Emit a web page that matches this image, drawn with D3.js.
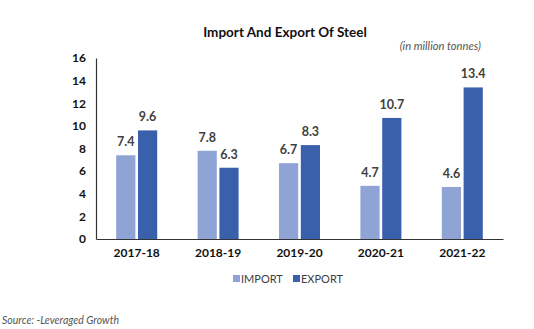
<!DOCTYPE html>
<html>
<head>
<meta charset="utf-8">
<script src="https://cdn.jsdelivr.net/npm/d3@7"></script>
<style>
  body { margin: 0; background: #fff; }
  text { font-family: Lato, "DejaVu Sans", sans-serif; }
</style>
</head>
<body>
<svg id="chart" width="534" height="329"></svg>
<script>
const years = ['2017-18', '2018-19', '2019-20', '2020-21', '2021-22'];
const importVals = [7.4, 7.8, 6.7, 4.7, 4.6];
const exportVals = [9.6, 6.3, 8.3, 10.7, 13.4];
const yTicks = [0, 2, 4, 6, 8, 10, 12, 14, 16];
const seriesNames = ['IMPORT', 'EXPORT'];
const seriesColors = ['#8fa3d5', '#3a60ac'];

const svg = d3.select('#chart');
const plotL = 96, plotR = 503, plotT = 58, plotB = 239;

const x = d3.scaleBand().domain(years).range([plotL, plotR]);
const inner = d3.scaleBand().domain(seriesNames).range([0, 41]).paddingInner(0.12);
const y = d3.scaleLinear().domain([0, 16]).range([plotB, plotT]);

// title + unit note
svg.append('text').attr('x', 285).attr('y', 37).attr('text-anchor', 'middle')
  .attr('font-size', 13.5).attr('font-weight', 'bold').attr('fill', '#111')
  .text('Import And Export Of Steel');
svg.append('text').attr('x', 481).attr('y', 50).attr('text-anchor', 'end')
  .attr('font-size', 11.2).attr('font-style', 'italic').attr('fill', '#555')
  .text('(in million tonnes)');

// bars
const rows = years.map((yr, i) => ({ yr, vals: [importVals[i], exportVals[i]] }));
const grp = svg.append('g').selectAll('g').data(rows).join('g')
  .attr('transform', d => `translate(${x(d.yr) + (x.bandwidth() - 41) / 2},0)`);

grp.selectAll('rect').data(d => d.vals.map((v, k) => ({ v, k })))
  .join('rect')
  .attr('x', d => inner(seriesNames[d.k]))
  .attr('width', inner.bandwidth())
  .attr('y', d => y(d.v))
  .attr('height', d => plotB - y(d.v))
  .attr('fill', d => seriesColors[d.k]);

grp.selectAll('text').data(d => d.vals.map((v, k) => ({ v, k })))
  .join('text')
  .attr('x', d => inner(seriesNames[d.k]) + inner.bandwidth() / 2)
  .attr('y', d => y(d.v) - 9)
  .attr('text-anchor', 'middle')
  .attr('font-size', 12.5).attr('font-weight', 'bold').attr('fill', '#404040')
  .text(d => d.v.toFixed(1));

// axes
const yAxis = svg.append('g').attr('transform', `translate(${plotL},0)`)
  .call(d3.axisLeft(y).tickValues(yTicks).tickSize(0).tickPadding(10));
yAxis.select('.domain').attr('stroke', '#333').attr('stroke-width', 1.2);
yAxis.selectAll('text').attr('font-size', 12).attr('font-weight', 'bold').attr('fill', '#111');

const xAxis = svg.append('g').attr('transform', `translate(0,${plotB})`)
  .call(d3.axisBottom(x).tickSize(0).tickPadding(9));
xAxis.select('.domain').attr('stroke', '#333').attr('stroke-width', 1.2);
xAxis.selectAll('text').attr('font-size', 12).attr('font-weight', 'bold').attr('fill', '#111');

// legend
const legend = svg.append('g').attr('transform', 'translate(233,279)');
const lx = [0, 60];
seriesNames.forEach((n, k) => {
  legend.append('rect').attr('x', lx[k]).attr('y', -4).attr('width', 7).attr('height', 7)
    .attr('fill', seriesColors[k]);
  legend.append('text').attr('x', lx[k] + 8).attr('y', 4)
    .attr('font-size', 11).attr('fill', '#404040').text(n);
});

// source
svg.append('text').attr('x', 2).attr('y', 324)
  .attr('font-size', 10.5).attr('font-style', 'italic').attr('fill', '#555')
  .text('Source: -Leveraged Growth');
</script>
</body>
</html>
